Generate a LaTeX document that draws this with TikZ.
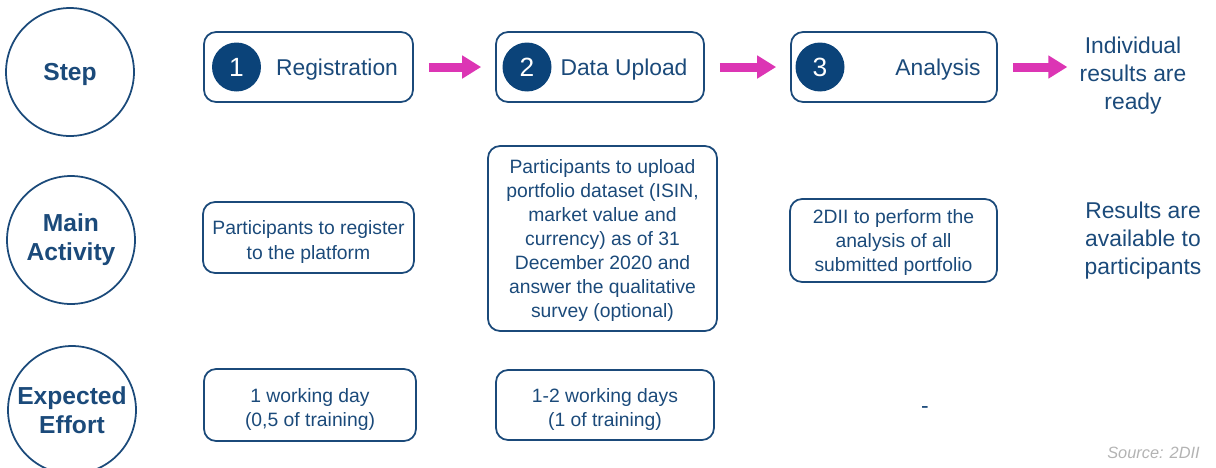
\documentclass[tikz,border=0pt]{standalone}
\usepackage{fontspec}
\setmainfont{Liberation Sans}
\usepackage{tikz}
\usetikzlibrary{arrows.meta}
\definecolor{navy}{HTML}{1B4A7A}
\definecolor{numblue}{HTML}{0B4379}
\definecolor{pinkarrow}{HTML}{DC35B4}
\definecolor{srcgray}{HTML}{B3B3B3}
\tikzset{rowcirc/.style = {draw=navy, line width=1pt, circle, minimum size=2.56cm, inner sep=0, align=center, text=navy, font=\bfseries\fontsize{14}{16.4}\selectfont}}
\tikzset{box/.style = {draw=navy, line width=1pt, rounded corners=0.24cm, inner sep=0}}
\tikzset{boxtext/.style = {align=center, text=navy, inner sep=0, font=\fontsize{11}{13.7}\selectfont}}
\tikzset{num/.style = {fill=numblue, circle, minimum size=0.98cm, inner sep=0, text=white, font=\fontsize{15}{18}\selectfont}}
\tikzset{plain/.style = {align=center, text=navy, inner sep=0, font=\fontsize{13}{15.9}\selectfont}}
\tikzset{parrow/.style = {draw=pinkarrow, line width=0.18cm, -{Triangle[width=0.44cm,length=0.38cm]}, shorten <=0.3cm, shorten >=0.28cm}}

\begin{document}
\begin{tikzpicture}[x=0.02cm,y=-0.02cm]
        \clip (0,0) rectangle (1216,467);
        % row headings
        \node [rowcirc, text depth=0pt] (step) at (70,72) {Step};
        \node [rowcirc] (activity) at (71,240) {Main\\Activity};
        \node [rowcirc] (effort) at (72,410) {Expected\\Effort};
        % steps
        \node [box, minimum width=4.18cm, minimum height=1.4cm] (b1) at (308.5,67) {};
        \node [num] (n1) at (236.5,67) {1};
        \node [plain] (t1) at (337,70) {Registration};
        \node [box, minimum width=4.16cm, minimum height=1.4cm] (b2) at (600,67) {};
        \node [num] (n2) at (527,67) {2};
        \node [plain] (t2) at (624,70) {Data Upload};
        \node [box, minimum width=4.12cm, minimum height=1.4cm] (b3) at (894,67) {};
        \node [num] (n3) at (820,67) {3};
        \node [plain] (t3) at (938,70) {Analysis};
        \node [plain] (res) at (1133,76) {Individual\\results are\\ready};
        \draw [parrow] (b1) -- (b2);
        \draw [parrow] (b2) -- (b3);
        \draw [parrow, shorten >=0.24cm] (b3.east) -- (b3.east -| res.west);
        % main activity
        \node [box, minimum width=4.22cm, minimum height=1.42cm] (a1) at (308.5,237.5) {};
        \node [boxtext] (a1t) at (308.5,242) {Participants to register\\to the platform};
        \node [box, minimum width=4.58cm, minimum height=3.7cm] (a2) at (602.5,238.5) {};
        \node [boxtext] (a2t) at (602.5,240.5) {Participants to upload\\portfolio dataset (ISIN,\\market value and\\currency) as of 31\\December 2020 and\\answer the qualitative\\survey (optional)};
        \node [box, minimum width=4.14cm, minimum height=1.66cm] (a3) at (893.5,240.5) {};
        \node [boxtext] (a3t) at (893.5,242.5) {2DII to perform the\\analysis of all\\submitted portfolio};
        \node [plain] (a4) at (1143,241) {Results are\\available to\\participants};
        % expected effort
        \node [box, minimum width=4.24cm, minimum height=1.44cm] (e1) at (310,405) {};
        \node [boxtext] (e1t) at (310,409.5) {1 working day\\(0,5 of training)};
        \node [box, minimum width=4.36cm, minimum height=1.4cm] (e2) at (605,405) {};
        \node [boxtext] (e2t) at (605,409.5) {1-2 working days\\(1 of training)};
        \node [plain] (e3) at (925,410) {-};
        \node [anchor=east, text=srcgray, inner sep=0, font=\itshape\fontsize{9.3}{11}\selectfont] (src) at (1200,453) {Source: 2DII};
    \end{tikzpicture}
\end{document}
